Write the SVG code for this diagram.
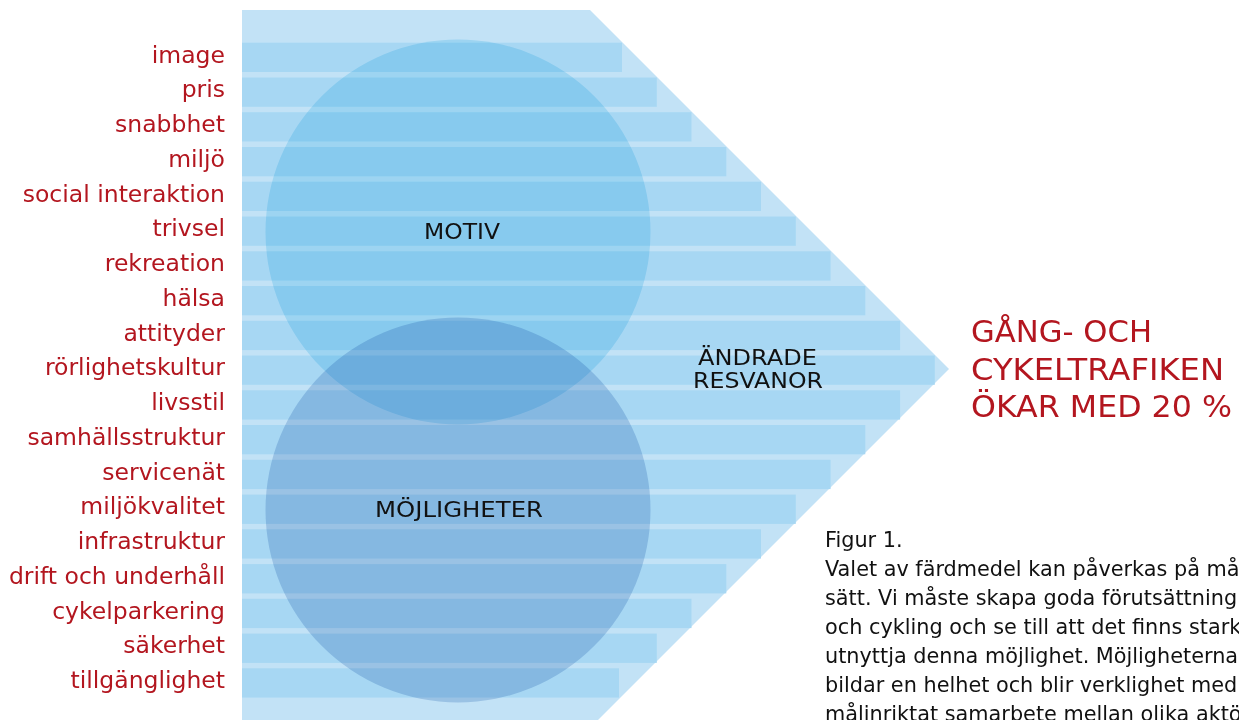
<svg xmlns="http://www.w3.org/2000/svg" width="1239" height="720" viewBox="0 0 1239 720">
<style>
.lbl{font-family:"DejaVu Sans","Verdana",sans-serif;font-size:23.5px;fill:#b3161f;text-anchor:end}
.stripe{fill:#a7d7f3}
.circ{mix-blend-mode:multiply}
.inner{font-family:"DejaVu Sans","Verdana",sans-serif;font-size:21px;fill:#111;text-anchor:middle}
.goal{font-family:"DejaVu Sans","Verdana",sans-serif;font-size:30px;fill:#b3161f}
.cap{font-family:"DejaVu Sans","Verdana",sans-serif;font-size:20.8px;fill:#111}
</style>
<rect width="1239" height="720" fill="#ffffff"/>
<g id="arrow">
<polygon points="242,10 590,10 949,369 598,720 242,720" fill="#c2e2f6"/>
<rect class="stripe" x="242" y="42.7" width="380" height="29.3"/>
<rect class="stripe" x="242" y="77.5" width="414.8" height="29.3"/>
<rect class="stripe" x="242" y="112.2" width="449.5" height="29.3"/>
<rect class="stripe" x="242" y="147" width="484.3" height="29.3"/>
<rect class="stripe" x="242" y="181.7" width="519" height="29.3"/>
<rect class="stripe" x="242" y="216.5" width="553.8" height="29.3"/>
<rect class="stripe" x="242" y="251.3" width="588.6" height="29.3"/>
<rect class="stripe" x="242" y="286" width="623.3" height="29.3"/>
<rect class="stripe" x="242" y="320.8" width="658.1" height="29.3"/>
<rect class="stripe" x="242" y="355.5" width="692.8" height="29.3"/>
<rect class="stripe" x="242" y="390.3" width="658.1" height="29.3"/>
<rect class="stripe" x="242" y="425" width="623.3" height="29.3"/>
<rect class="stripe" x="242" y="459.8" width="588.6" height="29.3"/>
<rect class="stripe" x="242" y="494.6" width="553.8" height="29.3"/>
<rect class="stripe" x="242" y="529.3" width="519" height="29.3"/>
<rect class="stripe" x="242" y="564.1" width="484.3" height="29.3"/>
<rect class="stripe" x="242" y="598.8" width="449.5" height="29.3"/>
<rect class="stripe" x="242" y="633.6" width="414.8" height="29.3"/>
<rect class="stripe" x="242" y="668.3" width="377" height="29.3"/>
</g>
<g id="motiv">
<circle class="circ" cx="458" cy="232" r="192.5" fill="#cef0fa"/>
</g>
<g id="mojligheter">
<circle class="circ" cx="458" cy="510" r="192.5" fill="#cbdbed"/>
</g>
<g id="inner-labels">
<text class="inner" x="462" y="239" textLength="76" lengthAdjust="spacingAndGlyphs">MOTIV</text>
<text class="inner" x="459" y="517" textLength="168" lengthAdjust="spacingAndGlyphs">MÖJLIGHETER</text>
<text class="inner" x="757.5" y="365" textLength="119" lengthAdjust="spacingAndGlyphs">ÄNDRADE</text>
<text class="inner" x="758" y="388" textLength="130" lengthAdjust="spacingAndGlyphs">RESVANOR</text>
</g>
<g id="factors">
<text class="lbl" x="225" y="62.5">image</text>
<text class="lbl" x="225" y="97.3">pris</text>
<text class="lbl" x="225" y="132">snabbhet</text>
<text class="lbl" x="225" y="166.8">miljö</text>
<text class="lbl" x="225" y="201.5">social interaktion</text>
<text class="lbl" x="225" y="236.3">trivsel</text>
<text class="lbl" x="225" y="271.1">rekreation</text>
<text class="lbl" x="225" y="305.8">hälsa</text>
<text class="lbl" x="225" y="340.6">attityder</text>
<text class="lbl" x="225" y="375.3">rörlighetskultur</text>
<text class="lbl" x="225" y="410.1">livsstil</text>
<text class="lbl" x="225" y="444.8">samhällsstruktur</text>
<text class="lbl" x="225" y="479.6">servicenät</text>
<text class="lbl" x="225" y="514.4">miljökvalitet</text>
<text class="lbl" x="225" y="549.1">infrastruktur</text>
<text class="lbl" x="225" y="583.9">drift och underhåll</text>
<text class="lbl" x="225" y="618.6">cykelparkering</text>
<text class="lbl" x="225" y="653.4">säkerhet</text>
<text class="lbl" x="225" y="688.1">tillgänglighet</text>
</g>
<g id="goal">
<text class="goal" x="971" y="342" textLength="181" lengthAdjust="spacingAndGlyphs">GÅNG- OCH</text>
<text class="goal" x="971" y="380" textLength="253" lengthAdjust="spacingAndGlyphs">CYKELTRAFIKEN</text>
<text class="goal" x="971" y="417" textLength="261" lengthAdjust="spacingAndGlyphs">ÖKAR MED 20 %</text>
</g>
<g id="caption">
<text class="cap" x="825" y="547">Figur 1.</text>
<text class="cap" x="825" y="576">Valet av färdmedel kan påverkas på må</text>
<text class="cap" x="825" y="605">sätt. Vi måste skapa goda förutsättning</text>
<text class="cap" x="825" y="634">och cykling och se till att det finns stark</text>
<text class="cap" x="825" y="663">utnyttja denna möjlighet. Möjligheterna</text>
<text class="cap" x="825" y="692">bildar en helhet och blir verklighet med</text>
<text class="cap" x="825" y="721">målinriktat samarbete mellan olika aktö</text>
</g>
</svg>
